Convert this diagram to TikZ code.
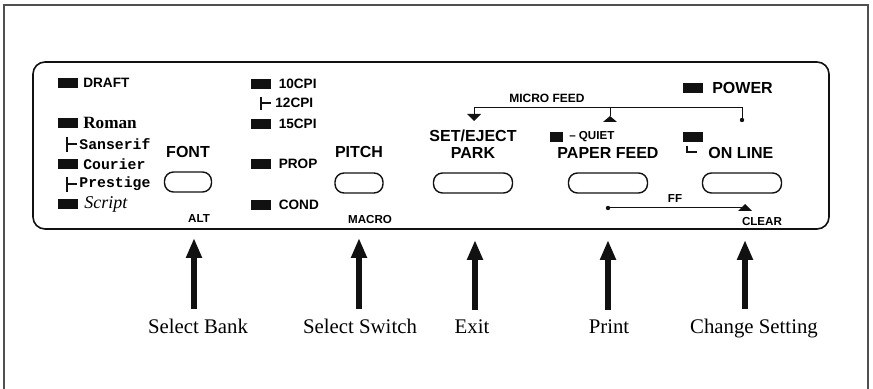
\documentclass[tikz,border=0pt]{standalone}
\usepackage{fontspec}
\setmainfont{Liberation Serif}
\setsansfont{Liberation Sans}
\setmonofont{Liberation Mono}
\usetikzlibrary{arrows.meta,positioning}
\definecolor{ink}{HTML}{111111}
\definecolor{framegray}{HTML}{505050}
\tikzset{
  led/.style={fill=ink,minimum width=10pt,minimum height=4.6pt,inner sep=0pt},
  ledtext/.style={font=\fontsize{6.8}{7}\sffamily\bfseries,inner sep=0pt},
  typetext/.style={font=\fontsize{7.4}{8}\ttfamily\bfseries,inner sep=0pt,anchor=west},
  keylabel/.style={font=\fontsize{8}{8.5}\sffamily\bfseries,inner sep=0pt,align=center},
  tinylabel/.style={font=\fontsize{5.8}{6}\sffamily\bfseries,inner sep=0pt},
  keybtn/.style={draw=ink,line width=0.7pt,rounded corners=4.5pt,
                 minimum height=10pt,inner sep=0pt},
  callout/.style={font=\fontsize{10.4}{12}\selectfont,inner sep=0pt,anchor=base},
  bigarr/.style={-{Triangle[length=10pt,width=7.5pt]},line width=3.2pt,draw=ink,
                 shorten <=5pt},
  thinline/.style={draw=ink,line width=0.5pt},
  bracket/.style={draw=ink,line width=0.7pt}
}

\begin{document}
\begin{tikzpicture}[x=0.5pt,y=-0.5pt,>=Latex]
  \useasboundingbox (0,0) rectangle (873,389);
  % page frame and panel outline
  \draw[framegray,line width=0.8pt] (4,389) -- (4,5) -- (868,5) -- (868,389);
  \draw[ink,line width=0.8pt,rounded corners=6pt] (33,62) rectangle (829,229);

  % font column
  \node[led] (ldraft) at (67.5,83) {};
  \node[ledtext,right=2.5pt of ldraft] (draft) {DRAFT};
  \node[led] (lroman) at (67.5,123) {};
  \node[right=2.5pt of lroman,inner sep=0pt,font=\fontsize{8.6}{9}\rmfamily\bfseries] (roman) {Roman};
  \node[typetext] (sanserif) at (79,144) {Sanserif};
  \draw[bracket] (sanserif.west) ++(-12,-7) -- ++(0,15) ++(0,-8) -- ++(10,0);
  \node[led] (lcourier) at (67.5,164) {};
  \node[typetext,right=2.5pt of lcourier] (courier) {Courier};
  \node[typetext] (prestige) at (79,184) {Prestige};
  \draw[bracket] (prestige.west) ++(-12,-7) -- ++(0,15) ++(0,-8) -- ++(10,0);
  \node[led] (lscript) at (67.5,204) {};
  \node[right=3pt of lscript,inner sep=0pt,font=\fontsize{9}{10}\rmfamily\itshape] (script) {Script};

  \node[keylabel] (fontlab) at (188,152) {FONT};
  \node[keybtn,minimum width=23.5pt] (fontbtn) at (188,182) {};
  \node[tinylabel] (alt) at (199,219) {ALT};

  % pitch column
  \node[led] (l10) at (261,84) {};
  \node[ledtext,right=3.5pt of l10] (cpi10) {10CPI};
  \node[ledtext,anchor=west] (cpi12) at (275,103) {12CPI};
  \draw[bracket] (cpi12.west) ++(-14,-6) -- ++(0,13) ++(0,-7) -- ++(10,0);
  \node[led] (l15) at (261,124) {};
  \node[ledtext,right=3.5pt of l15] (cpi15) {15CPI};
  \node[led] (lprop) at (261,164) {};
  \node[ledtext,right=3.5pt of lprop] (prop) {PROP};
  \node[led] (lcond) at (261,205) {};
  \node[ledtext,right=3.5pt of lcond] (cond) {COND};

  \node[keylabel] (pitchlab) at (359,152) {PITCH};
  \node[keybtn,minimum width=24pt] (pitchbtn) at (359,183) {};
  \node[tinylabel] (macro) at (370,220) {MACRO};

  % set/eject
  \node[keylabel] (setlab) at (473,144.5) {SET/EJECT\\PARK};
  \node[keybtn,minimum width=39.5pt] (setbtn) at (473,183) {};

  % paper feed
  \node[led,minimum width=6.5pt] (lquiet) at (556,137) {};
  \node[tinylabel,right=3pt of lquiet] (quiet) {– QUIET};
  \node[keylabel] (feedlab) at (608,153) {PAPER FEED};
  \node[keybtn,minimum width=39.5pt] (feedbtn) at (608,183) {};

  % on line / power
  \node[led] (lpower) at (692.5,88) {};
  \node[keylabel,right=4.5pt of lpower] (power) {POWER};
  \node[led] (lonline) at (692.5,137) {};
  \node[keylabel,anchor=west] (online) at (708,153) {ON LINE};
  \draw[bracket] (online.west) ++(-21,-7) -- ++(0,6) -- ++(10,0);
  \node[keybtn,minimum width=39.5pt] (onlinebtn) at (742,183) {};

  % micro feed link
  \node[tinylabel,font=\fontsize{6}{6}\sffamily\bfseries] (micro) at (547,98) {MICRO FEED};
  \coordinate (ejmark) at (474,114);
  \coordinate (pfmark) at (610,116);
  \coordinate (mfdot) at (742,120);
  \draw[thinline] (ejmark) -- ++(0,-6) -| (mfdot);
  \draw[thinline] (pfmark) -- ++(0,-8);
  \fill[ink] (mfdot) circle (1.1pt);
  \fill[ink] (ejmark) ++(-7,0) -- ++(14,0) -- ++(-7,7) -- cycle;
  \fill[ink] (pfmark) -- ++(7,6) -- ++(-14,0) -- cycle;

  % form feed link
  \node[tinylabel] (ff) at (675,199) {FF};
  \node[tinylabel] (clear) at (762,222) {CLEAR};
  \coordinate (ffdot) at (608,208);
  \coordinate (ffmark) at (745,204);
  \draw[thinline] (ffdot) -- (ffmark |- ffdot);
  \fill[ink] (ffdot) circle (1.1pt);
  \fill[ink] (ffmark) -- ++(7,7) -- ++(-14,0) -- cycle;

  % callouts below the panel
  \node[callout] (lbank) at (198,334) {Select Bank};
  \node[callout] (lswitch) at (360,334) {Select Switch};
  \node[callout] (lexit) at (472,334) {Exit};
  \node[callout] (lprint) at (609,334) {Print};
  \node[callout] (lchange) at (754,334) {Change Setting};
  \coordinate (tbank) at (194,238);
  \coordinate (tswitch) at (359,238);
  \coordinate (texit) at (475,240);
  \coordinate (tprint) at (608,240);
  \coordinate (tchange) at (745,240);
  \draw[bigarr] (lbank.north -| tbank) -- (tbank);
  \draw[bigarr] (lswitch.north -| tswitch) -- (tswitch);
  \draw[bigarr] (lexit.north -| texit) -- (texit);
  \draw[bigarr] (lprint.north -| tprint) -- (tprint);
  \draw[bigarr] (lchange.north -| tchange) -- (tchange);
\end{tikzpicture}
\end{document}
